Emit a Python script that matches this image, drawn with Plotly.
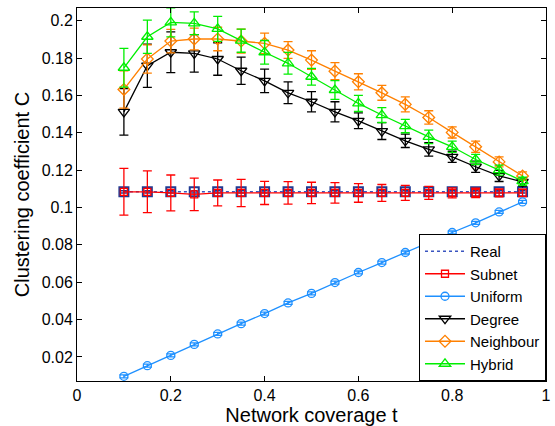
import plotly.graph_objects as go

t = [0.1, 0.15, 0.2, 0.25, 0.3, 0.35, 0.4, 0.45, 0.5, 0.55, 0.6, 0.65, 0.7, 0.75, 0.8, 0.85, 0.9, 0.95]

real = [0.1084] * 18
real_err = [0.0006] * 18

subnet = [0.1084, 0.1084, 0.1078, 0.1070, 0.1078, 0.1078, 0.1078, 0.1078, 0.1078, 0.1078,
          0.1078, 0.1078, 0.1078, 0.1078, 0.1078, 0.1078, 0.1078, 0.1078]
subnet_err = [0.0125, 0.0112, 0.0096, 0.0087, 0.0069, 0.0073, 0.0062, 0.0060, 0.0057, 0.0055,
              0.0050, 0.0045, 0.0040, 0.0035, 0.0027, 0.0025, 0.0021, 0.0020]

uniform = [0.0096, 0.0153, 0.0208, 0.0267, 0.0323, 0.0378, 0.0432, 0.0489, 0.0540, 0.0598,
           0.0652, 0.0705, 0.0759, 0.0816, 0.0866, 0.0918, 0.0976, 0.1030]
uniform_err = [0.0008] * 18

degree = [0.1512, 0.1759, 0.1831, 0.1825, 0.1795, 0.1732, 0.1678, 0.1614, 0.1566, 0.1512,
          0.1464, 0.1409, 0.1357, 0.1311, 0.1271, 0.1218, 0.1169, 0.1137]
degree_err = [0.0125, 0.0116, 0.0109, 0.0100, 0.0087, 0.0073, 0.0063, 0.0058, 0.0054, 0.0054,
              0.0042, 0.0045, 0.0036, 0.0036, 0.0030, 0.0030, 0.0030, 0.0022]

neighbour = [0.1632, 0.1795, 0.1891, 0.1902, 0.1902, 0.1891, 0.1879, 0.1843, 0.1789, 0.1730,
             0.1673, 0.1614, 0.1552, 0.1482, 0.1402, 0.1325, 0.1244, 0.1169]
neighbour_err = [0.0100, 0.0076, 0.0063, 0.0058, 0.0063, 0.0064, 0.0055, 0.0045, 0.0050, 0.0046,
                 0.0043, 0.0040, 0.0040, 0.0036, 0.0030, 0.0030, 0.0027, 0.0022]

hybrid = [0.1748, 0.1914, 0.1991, 0.1986, 0.1956, 0.1893, 0.1831, 0.1772, 0.1700, 0.1629,
          0.1557, 0.1495, 0.1436, 0.1378, 0.1325, 0.1257, 0.1200, 0.1141]
hybrid_err = [0.0104, 0.0089, 0.0078, 0.0061, 0.0067, 0.0062, 0.0063, 0.0058, 0.0045, 0.0050,
              0.0043, 0.0040, 0.0036, 0.0036, 0.0030, 0.0027, 0.0027, 0.0022]

x_ticks = [0, 0.2, 0.4, 0.6, 0.8, 1]
x_labels = ["0", "0.2", "0.4", "0.6", "0.8", "1"]
y_ticks = [0.02, 0.04, 0.06, 0.08, 0.1, 0.12, 0.14, 0.16, 0.18, 0.2]
y_labels = ["0.02", "0.04", "0.06", "0.08", "0.1", "0.12", "0.14", "0.16", "0.18", "0.2"]

FONT = "Liberation Sans, Arial, sans-serif"

fig = go.Figure()

def add_series(name, y, err, color, symbol, size=8):
    fig.add_trace(go.Scatter(
        x=t, y=y, name=name, mode="lines+markers",
        line=dict(color=color, width=1.3),
        marker=dict(symbol=symbol, size=size, color=color,
                    line=dict(color=color, width=1.3)),
        error_y=dict(type="data", array=err, visible=True, color=color, thickness=1.3, width=4.5),
    ))

# Real: square markers behind, dotted line shown in legend
fig.add_trace(go.Scatter(
    x=t, y=real, mode="markers", showlegend=False, hoverinfo="skip",
    marker=dict(symbol="square-open", size=9, color="#1F3A93", line=dict(color="#1F3A93", width=2)),
    error_y=dict(type="data", array=real_err, visible=True, color="#1F3A93", thickness=1.5, width=3),
))
fig.add_trace(go.Scatter(
    x=t, y=real, name="Real", mode="lines",
    line=dict(color="#3A55C0", width=1.5, dash="dot"),
))
add_series("Subnet", subnet, subnet_err, "#FF0000", "square-open", size=7)
add_series("Uniform", uniform, uniform_err, "#1E90FF", "circle-open", size=8)
add_series("Degree", degree, degree_err, "#000000", "triangle-down-open", size=10)
add_series("Neighbour", neighbour, neighbour_err, "#FF8000", "diamond-open", size=9)
add_series("Hybrid", hybrid, hybrid_err, "#00EE00", "triangle-up-open", size=10)

axis_common = dict(
    showgrid=False, zeroline=False, showline=True, linecolor="black", linewidth=1,
    mirror="allticks", ticks="inside", ticklen=5, tickcolor="black", automargin=False,
    tickfont=dict(family=FONT, size=16, color="black"),
)

fig.update_layout(
    width=555, height=426,
    margin=dict(l=77, r=9, t=8, b=45),
    paper_bgcolor="white", plot_bgcolor="white",
    font=dict(family=FONT, size=16, color="black"),
    xaxis=dict(range=[0, 1], tickvals=x_ticks, ticktext=x_labels,
               title=dict(text="Network coverage t", font=dict(size=20), standoff=4), **axis_common),
    yaxis=dict(range=[0.0071, 0.2068], tickvals=y_ticks, ticktext=y_labels,
               title=dict(text="Clustering coefficient C", font=dict(size=20), standoff=6), **axis_common),
    legend=dict(x=1, y=0, xanchor="right", yanchor="bottom", bgcolor="white",
                bordercolor="black", borderwidth=1, font=dict(size=15),
                tracegroupgap=0, itemwidth=40),
)

fig.write_html("out.html", config={"displayModeBar": False},
               post_script="document.body.style.margin='0';document.body.style.overflow='hidden';")
